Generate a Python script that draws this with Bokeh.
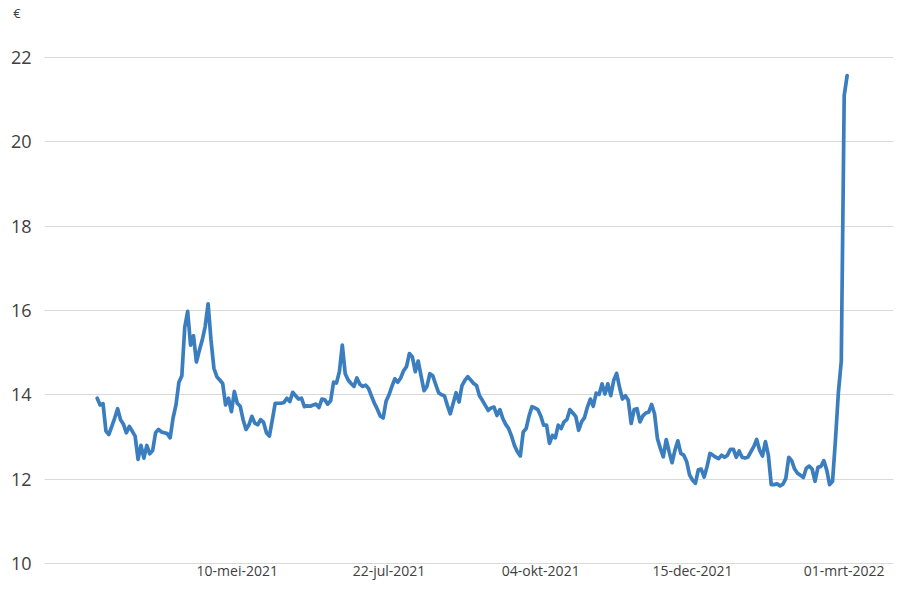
from bokeh.plotting import figure
from bokeh.models import ColumnDataSource, FixedTicker, Range1d
from bokeh.core.properties import value
from bokeh.embed import file_html
from bokeh.resources import INLINE

# Daily price (EUR), trading days from early March 2021 to early March 2022
prices = [
    13.92, 13.76, 13.79, 13.14, 13.06, 13.25, 13.45, 13.67, 13.41, 13.30,
    13.10, 13.25, 13.14, 13.02, 12.47, 12.80, 12.50, 12.80, 12.60, 12.68,
    13.10, 13.18, 13.12, 13.10, 13.08, 12.98, 13.45, 13.76, 14.30, 14.45,
    15.60, 15.98, 15.18, 15.40, 14.78, 15.05, 15.30, 15.62, 16.16, 15.30,
    14.63, 14.43, 14.35, 14.27, 13.76, 13.92, 13.60, 14.08, 13.80, 13.73,
    13.41, 13.18, 13.29, 13.49, 13.33, 13.29, 13.41, 13.35, 13.10, 13.02,
    13.40, 13.80, 13.80, 13.80, 13.82, 13.92, 13.84, 14.06, 13.98, 13.90,
    13.92, 13.72, 13.74, 13.73, 13.76, 13.78, 13.70, 13.90, 13.88, 13.78,
    13.86, 14.30, 14.28, 14.55, 15.18, 14.50, 14.35, 14.27, 14.20, 14.40,
    14.25, 14.20, 14.23, 14.15, 13.97, 13.80, 13.66, 13.50, 13.45, 13.85,
    14.00, 14.20, 14.38, 14.30, 14.40, 14.57, 14.67, 14.98, 14.90, 14.55,
    14.80, 14.45, 14.10, 14.20, 14.50, 14.45, 14.25, 14.05, 14.00, 13.98,
    13.75, 13.55, 13.80, 14.05, 13.83, 14.22, 14.34, 14.43, 14.35, 14.27,
    14.22, 13.98, 13.87, 13.75, 13.63, 13.69, 13.71, 13.51, 13.65, 13.44,
    13.30, 13.20, 13.02, 12.80, 12.65, 12.55, 13.12, 13.20, 13.50, 13.72,
    13.69, 13.65, 13.50, 13.28, 13.28, 12.85, 13.04, 12.98, 13.28, 13.20,
    13.36, 13.42, 13.65, 13.57, 13.49, 13.16, 13.36, 13.46, 13.71, 13.90,
    13.73, 14.04, 14.01, 14.26, 14.02, 14.26, 13.98, 14.34, 14.51, 14.18,
    13.90, 13.98, 13.87, 13.32, 13.65, 13.67, 13.36, 13.50, 13.57, 13.59,
    13.77, 13.55, 12.96, 12.73, 12.53, 12.94, 12.65, 12.39, 12.69, 12.91,
    12.61, 12.57, 12.42, 12.10, 11.98, 11.90, 12.22, 12.24, 12.05, 12.30,
    12.61, 12.57, 12.52, 12.49, 12.57, 12.52, 12.57, 12.71, 12.71, 12.52,
    12.67, 12.52, 12.50, 12.52, 12.65, 12.77, 12.94, 12.69, 12.55, 12.89,
    12.57, 11.87, 11.87, 11.89, 11.84, 11.88, 12.02, 12.52, 12.44, 12.24,
    12.14, 12.09, 12.04, 12.26, 12.31, 12.24, 11.95, 12.28, 12.30, 12.44,
    12.22, 11.87, 11.95, 12.93, 14.05, 14.80, 21.10, 21.57,
]

tick_idx = [48, 100, 152, 204, 256]
tick_labels = ["10-mei-2021", "22-jul-2021", "04-okt-2021", "15-dec-2021", "01-mrt-2022"]
y_ticks = [10, 12, 14, 16, 18, 20, 22]
unit_label = "€"

TEXT = "#404040"
W, H = 894, 580
LEFT, RIGHT, TOP = 44, 1, 26          # borders in px
Y22_PX, Y10_PX = 57.0, 563.0          # where 22 and 10 sit (px from top)
PX_PER_IDX = 2.918
FIRST_PX = 96.7
LABEL_LIFT_PX = 10                    # date-label baseline lift above the frame bottom

ppu = (Y10_PX - Y22_PX) / (y_ticks[-1] - y_ticks[0])
y_lo = y_ticks[0] - (H - Y10_PX) / ppu
y_hi = y_ticks[-1] + (Y22_PX - TOP) / ppu
x_lo = -(FIRST_PX - LEFT) / PX_PER_IDX
x_hi = x_lo + (W - LEFT - RIGHT) / PX_PER_IDX

x = list(range(len(prices)))

p = figure(width=W, height=H, output_backend="svg", toolbar_location=None,
           x_range=Range1d(x_lo, x_hi), y_range=Range1d(y_lo, y_hi),
           x_axis_location=None,
           min_border_left=LEFT, min_border_right=RIGHT,
           min_border_top=TOP, min_border_bottom=0)
p.outline_line_color = None
p.background_fill_color = "white"
p.border_fill_color = "white"

p.title.text = unit_label
p.title.align = "left"
p.title.offset = 12.7 - LEFT
p.title.vertical_align = "top"
p.title.standoff = 6
p.title.text_font = "Open Sans"
p.title.text_font_size = "13px"
p.title.text_font_style = "normal"
p.title.text_color = TEXT

p.line(x, prices, line_color="#3a7ebf", line_width=3.7, line_join="round", line_cap="round")

p.xgrid.visible = False
p.ygrid.ticker = FixedTicker(ticks=y_ticks)
p.ygrid.grid_line_color = "#d9d9d9"
p.ygrid.grid_line_width = 1

ax = p.yaxis[0]
ax.ticker = FixedTicker(ticks=y_ticks)
ax.axis_line_color = None
ax.major_tick_line_color = None
ax.minor_tick_line_color = None
ax.major_tick_out = 0
ax.major_tick_in = 0
ax.major_label_standoff = 13
ax.major_label_text_font = "Open Sans"
ax.major_label_text_font_size = "18px"
ax.major_label_text_color = TEXT

# date labels under the 10-line, placed through the plot's own scales
src = ColumnDataSource(dict(x=tick_idx,
                            y=[y_lo + LABEL_LIFT_PX / ppu] * len(tick_idx),
                            text=tick_labels))
p.text(x="x", y="y", text="text", source=src, text_align="center",
       text_baseline="alphabetic", text_font=value("Open Sans"),
       text_font_size="14px", text_color=TEXT)

open("out.html", "w").write(file_html(p, INLINE))
